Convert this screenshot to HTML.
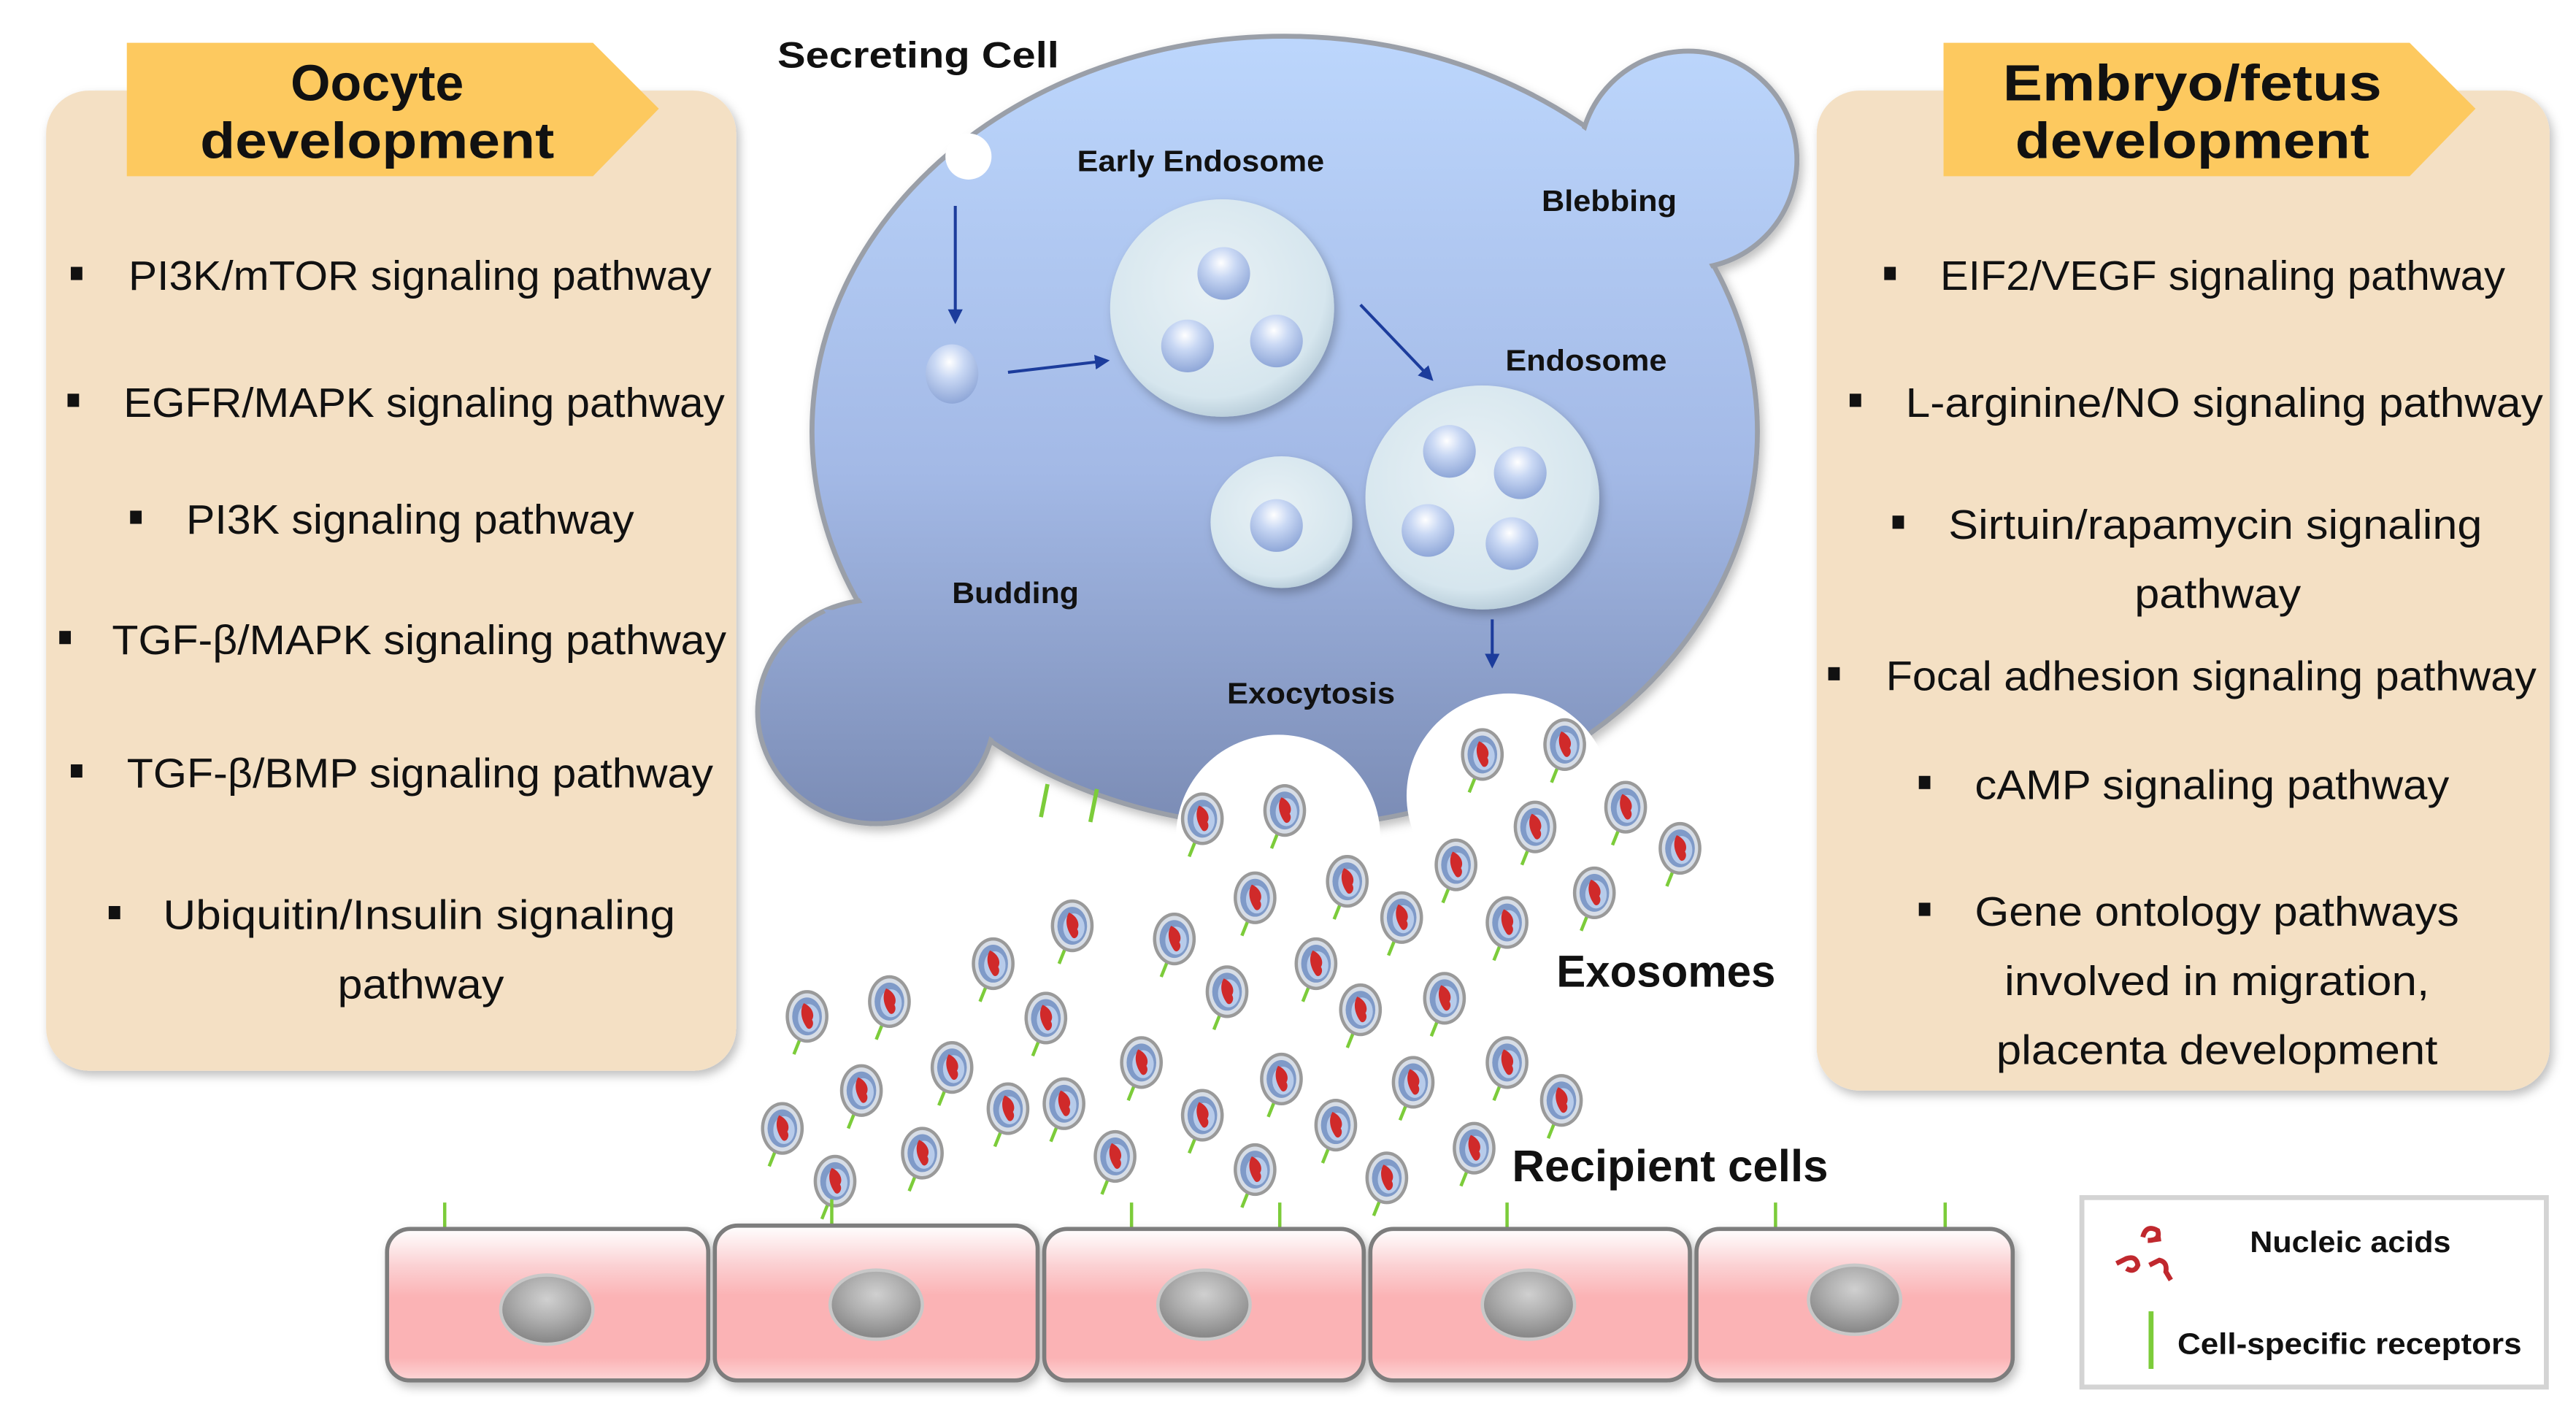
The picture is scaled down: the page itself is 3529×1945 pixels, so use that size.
<!DOCTYPE html>
<html><head><meta charset="utf-8"><style>
html,body{margin:0;padding:0;background:#fff;}
svg{display:block;}
.t{font-family:"Liberation Sans",sans-serif;font-size:25px;fill:#111;}
.b{font-family:"Liberation Sans",sans-serif;font-weight:bold;fill:#111;}
</style></head><body>
<svg width="3529" height="1945" viewBox="0 0 1564 862" preserveAspectRatio="none" xmlns="http://www.w3.org/2000/svg">
<defs>
<linearGradient id="cellg" gradientUnits="userSpaceOnUse" x1="0" y1="25" x2="0" y2="500">
<stop offset="0" stop-color="#bcd6fc"/><stop offset="0.55" stop-color="#a3b9e6"/><stop offset="1" stop-color="#7b8cb5"/></linearGradient>
<radialGradient id="endo" cx="0.45" cy="0.4" r="0.6"><stop offset="0" stop-color="#e8f1f5"/><stop offset="0.85" stop-color="#d6e6ee"/><stop offset="1" stop-color="#bcd0dc"/></radialGradient>
<radialGradient id="ves" cx="0.45" cy="0.3" r="0.7"><stop offset="0" stop-color="#ffffff"/><stop offset="0.4" stop-color="#c9d8f4"/><stop offset="1" stop-color="#8fa7d8"/></radialGradient>
<linearGradient id="pink" x1="0" y1="0" x2="0" y2="1"><stop offset="0" stop-color="#fff"/><stop offset="0.25" stop-color="#fbd0d2"/><stop offset="0.45" stop-color="#fbb3b5"/><stop offset="0.85" stop-color="#fbb3b5"/><stop offset="1" stop-color="#fdd6d7"/></linearGradient>
<radialGradient id="nuc" cx="0.5" cy="0.35" r="0.6"><stop offset="0" stop-color="#d0d0d0"/><stop offset="0.5" stop-color="#b0b0b0"/><stop offset="1" stop-color="#8a8a8a"/></radialGradient>
<filter id="sh" x="-10%" y="-10%" width="120%" height="120%"><feDropShadow dx="2" dy="3" stdDeviation="3" flood-color="#000" flood-opacity="0.25"/></filter>
<marker id="ar" viewBox="0 0 10 10" refX="8" refY="5" markerWidth="5" markerHeight="5" orient="auto"><path d="M0,0L10,5L0,10z" fill="#1c3c9c"/></marker>
<g id="ex">
<line x1="-4" y1="13" x2="-8" y2="23" stroke="#7ccc3a" stroke-width="2"/>
<ellipse rx="13" ry="16" fill="#9a9a9a"/>
<ellipse rx="11" ry="14" fill="#d7dde6"/>
<ellipse rx="9" ry="11.5" fill="#7f9ac8"/>
<ellipse cx="1" cy="1" rx="6.5" ry="8.5" fill="#b7cbea"/>
<path d="M-2,-8 C3,-6 5,-1 3,2 C5,5 2,9 0,7 C-3,3 -5,-3 -2,-8z" fill="#d02a2a"/>
</g>
</defs>

<!-- Left panel -->
<rect x="28" y="55" width="419" height="595" rx="26" fill="#f4e0c4" filter="url(#sh)"/>
<polygon points="77,26 360,26 400,66 360,107 77,107" fill="#fdc95f"/>
<text class="b" x="229" y="61" font-size="31" text-anchor="middle">Oocyte</text>
<text class="b" x="229" y="96" font-size="31" text-anchor="middle" textLength="215" lengthAdjust="spacingAndGlyphs">development</text>

<rect x="43" y="162" width="7" height="8" fill="#111"/>
<text class="t" x="78" y="176" textLength="354" lengthAdjust="spacingAndGlyphs">PI3K/mTOR signaling pathway</text>
<rect x="41" y="239" width="7" height="8" fill="#111"/>
<text class="t" x="75" y="253" textLength="365" lengthAdjust="spacingAndGlyphs">EGFR/MAPK signaling pathway</text>
<rect x="79" y="310" width="7" height="8" fill="#111"/>
<text class="t" x="113" y="324" textLength="272" lengthAdjust="spacingAndGlyphs">PI3K signaling pathway</text>
<rect x="36" y="383" width="7" height="8" fill="#111"/>
<text class="t" x="68" y="397" textLength="373" lengthAdjust="spacingAndGlyphs">TGF-β/MAPK signaling pathway</text>
<rect x="43" y="464" width="7" height="8" fill="#111"/>
<text class="t" x="77" y="478" textLength="356" lengthAdjust="spacingAndGlyphs">TGF-β/BMP signaling pathway</text>
<rect x="66" y="550" width="7" height="8" fill="#111"/>
<text class="t" x="99" y="564" textLength="311" lengthAdjust="spacingAndGlyphs">Ubiquitin/Insulin signaling</text>
<text class="t" x="205" y="606" textLength="101" lengthAdjust="spacingAndGlyphs">pathway</text>

<!-- Right panel -->
<rect x="1103" y="55" width="445" height="607" rx="26" fill="#f4e0c4" filter="url(#sh)"/>
<polygon points="1180,26 1463,26 1503,66 1463,107 1180,107" fill="#fdc95f"/>
<text class="b" x="1331" y="61" font-size="31" text-anchor="middle" textLength="230" lengthAdjust="spacingAndGlyphs">Embryo/fetus</text>
<text class="b" x="1331" y="96" font-size="31" text-anchor="middle" textLength="215" lengthAdjust="spacingAndGlyphs">development</text>

<rect x="1144" y="162" width="7" height="8" fill="#111"/>
<text class="t" x="1178" y="176" textLength="343" lengthAdjust="spacingAndGlyphs">EIF2/VEGF signaling pathway</text>
<rect x="1123" y="239" width="7" height="8" fill="#111"/>
<text class="t" x="1157" y="253" textLength="387" lengthAdjust="spacingAndGlyphs">L-arginine/NO signaling pathway</text>
<rect x="1149" y="313" width="7" height="8" fill="#111"/>
<text class="t" x="1183" y="327" textLength="324" lengthAdjust="spacingAndGlyphs">Sirtuin/rapamycin signaling</text>
<text class="t" x="1296" y="369" textLength="101" lengthAdjust="spacingAndGlyphs">pathway</text>
<rect x="1110" y="405" width="7" height="8" fill="#111"/>
<text class="t" x="1145" y="419" textLength="395" lengthAdjust="spacingAndGlyphs">Focal adhesion signaling pathway</text>
<rect x="1165" y="471" width="7" height="8" fill="#111"/>
<text class="t" x="1199" y="485" textLength="288" lengthAdjust="spacingAndGlyphs">cAMP signaling pathway</text>
<rect x="1165" y="548" width="7" height="8" fill="#111"/>
<text class="t" x="1199" y="562" textLength="294" lengthAdjust="spacingAndGlyphs">Gene ontology pathways</text>
<text class="t" x="1217" y="604" textLength="258" lengthAdjust="spacingAndGlyphs">involved in migration,</text>
<text class="t" x="1212" y="646" textLength="268" lengthAdjust="spacingAndGlyphs">placenta development</text>

<!-- Secreting cell -->
<g filter="url(#sh)" stroke="#9a9fa8" stroke-width="3" fill="url(#cellg)">
<ellipse cx="780" cy="262" rx="287" ry="240"/>
<circle cx="1025" cy="97" r="66"/>
<ellipse cx="532" cy="432" rx="72" ry="68"/>
</g>
<g fill="url(#cellg)">
<ellipse cx="780" cy="262" rx="285" ry="238"/>
<circle cx="1025" cy="97" r="64"/>
<ellipse cx="532" cy="432" rx="70" ry="66"/>
<path d="M960,80 Q985,100 975,130 L1010,165 Q1035,160 1050,150 L1000,110z"/>
<path d="M500,370 Q530,372 545,360 L580,400 L520,400z"/>
</g>
<circle cx="588" cy="95" r="14" fill="#fff"/>
<!-- exocytosis bulges -->
<circle cx="776" cy="508" r="62" fill="#fff"/>
<circle cx="916" cy="483" r="62" fill="#fff"/>
<rect x="700" y="510" width="300" height="40" fill="#fff"/>

<!-- endosomes -->
<g filter="url(#sh)">
<ellipse cx="742" cy="187" rx="68" ry="66" fill="url(#endo)"/>
<ellipse cx="900" cy="302" rx="71" ry="68" fill="url(#endo)"/>
<ellipse cx="778" cy="317" rx="43" ry="40" fill="url(#endo)"/>
</g>
<g>
<ellipse cx="743" cy="166" rx="16" ry="16" fill="url(#ves)"/>
<ellipse cx="721" cy="210" rx="16" ry="16" fill="url(#ves)"/>
<ellipse cx="775" cy="207" rx="16" ry="16" fill="url(#ves)"/>
<ellipse cx="880" cy="274" rx="16" ry="16" fill="url(#ves)"/>
<ellipse cx="923" cy="287" rx="16" ry="16" fill="url(#ves)"/>
<ellipse cx="867" cy="322" rx="16" ry="16" fill="url(#ves)"/>
<ellipse cx="918" cy="330" rx="16" ry="16" fill="url(#ves)"/>
<ellipse cx="775" cy="319" rx="16" ry="16" fill="url(#ves)"/>
<ellipse cx="578" cy="227" rx="16" ry="18" fill="url(#ves)"/>
</g>
<g stroke="#1c3c9c" stroke-width="1.8" marker-end="url(#ar)">
<line x1="580" y1="125" x2="580" y2="195"/>
<line x1="612" y1="226" x2="672" y2="219"/>
<line x1="826" y1="185" x2="869" y2="230"/>
<line x1="906" y1="376" x2="906" y2="404"/>
</g>

<text class="b" x="472" y="41" font-size="22" textLength="171" lengthAdjust="spacingAndGlyphs">Secreting Cell</text>
<text class="b" x="654" y="104" font-size="18" textLength="150" lengthAdjust="spacingAndGlyphs">Early Endosome</text>
<text class="b" x="936" y="128" font-size="18" textLength="82" lengthAdjust="spacingAndGlyphs">Blebbing</text>
<text class="b" x="914" y="225" font-size="18" textLength="98" lengthAdjust="spacingAndGlyphs">Endosome</text>
<text class="b" x="578" y="366" font-size="18" textLength="77" lengthAdjust="spacingAndGlyphs">Budding</text>
<text class="b" x="745" y="427" font-size="18" textLength="102" lengthAdjust="spacingAndGlyphs">Exocytosis</text>

<line x1="636" y1="476" x2="632" y2="496" stroke="#7ccc3a" stroke-width="2.5"/>
<line x1="666" y1="479" x2="662" y2="499" stroke="#7ccc3a" stroke-width="2.5"/>

<!-- exosomes -->
<g>
<use href="#ex" x="730" y="497"/><use href="#ex" x="780" y="492"/><use href="#ex" x="900" y="458"/><use href="#ex" x="950" y="452"/>
<use href="#ex" x="932" y="502"/><use href="#ex" x="987" y="490"/><use href="#ex" x="1020" y="515"/><use href="#ex" x="884" y="525"/>
<use href="#ex" x="818" y="535"/><use href="#ex" x="762" y="545"/><use href="#ex" x="968" y="542"/><use href="#ex" x="915" y="560"/>
<use href="#ex" x="851" y="557"/><use href="#ex" x="651" y="562"/><use href="#ex" x="713" y="570"/><use href="#ex" x="603" y="585"/>
<use href="#ex" x="745" y="602"/><use href="#ex" x="799" y="585"/><use href="#ex" x="877" y="606"/><use href="#ex" x="826" y="613"/>
<use href="#ex" x="540" y="608"/><use href="#ex" x="490" y="617"/><use href="#ex" x="635" y="618"/><use href="#ex" x="578" y="648"/>
<use href="#ex" x="523" y="662"/><use href="#ex" x="612" y="673"/><use href="#ex" x="646" y="670"/><use href="#ex" x="693" y="645"/>
<use href="#ex" x="778" y="655"/><use href="#ex" x="858" y="657"/><use href="#ex" x="915" y="645"/><use href="#ex" x="948" y="668"/>
<use href="#ex" x="730" y="677"/><use href="#ex" x="811" y="683"/><use href="#ex" x="475" y="685"/><use href="#ex" x="560" y="700"/>
<use href="#ex" x="677" y="702"/><use href="#ex" x="762" y="710"/><use href="#ex" x="842" y="715"/><use href="#ex" x="895" y="697"/>
<use href="#ex" x="507" y="717"/>
</g>

<text class="b" x="945" y="599" font-size="27" textLength="133" lengthAdjust="spacingAndGlyphs">Exosomes</text>
<text class="b" x="918" y="717" font-size="27" textLength="192" lengthAdjust="spacingAndGlyphs">Recipient cells</text>

<g stroke="#7ccc3a" stroke-width="2">
<line x1="270" y1="730" x2="270" y2="746"/><line x1="505" y1="728" x2="505" y2="746"/><line x1="687" y1="730" x2="687" y2="746"/>
<line x1="777" y1="730" x2="777" y2="746"/><line x1="915" y1="730" x2="915" y2="746"/><line x1="1078" y1="730" x2="1078" y2="746"/><line x1="1181" y1="730" x2="1181" y2="746"/>
</g>
<g stroke="#7d7d7d" stroke-width="2.5" fill="url(#pink)" filter="url(#sh)">
<rect x="235" y="746" width="195" height="92" rx="14"/>
<rect x="434" y="744" width="196" height="94" rx="14"/>
<rect x="634" y="746" width="194" height="92" rx="14"/>
<rect x="832" y="746" width="194" height="92" rx="14"/>
<rect x="1030" y="746" width="192" height="92" rx="14"/>
</g>
<g fill="url(#nuc)" stroke="#c8c8c8" stroke-width="2">
<ellipse cx="332" cy="795" rx="28" ry="21"/>
<ellipse cx="532" cy="792" rx="28" ry="21"/>
<ellipse cx="731" cy="792" rx="28" ry="21"/>
<ellipse cx="928" cy="792" rx="28" ry="21"/>
<ellipse cx="1126" cy="789" rx="28" ry="21"/>
</g>

<!-- legend -->
<rect x="1264" y="727" width="282" height="115" fill="#fff" stroke="#d4d4d4" stroke-width="3"/>
<g stroke="#c0282e" stroke-width="3" fill="none">
<path d="M1301,751 q2,-8 9,-4 q2,6 -6,6 M1305,753 l7,-1"/>
<path d="M1285,767 l6,-3 q6,-2 7,4 q-2,5 -7,2"/>
<path d="M1305,768 l6,-3 q5,1 4,7 l3,5"/>
</g>
<text class="b" x="1366" y="760" font-size="18" textLength="122" lengthAdjust="spacingAndGlyphs">Nucleic acids</text>
<line x1="1306" y1="796" x2="1306" y2="831" stroke="#7ccc3a" stroke-width="3"/>
<text class="b" x="1322" y="822" font-size="18" textLength="209" lengthAdjust="spacingAndGlyphs">Cell-specific receptors</text>
</svg>
</body></html>
